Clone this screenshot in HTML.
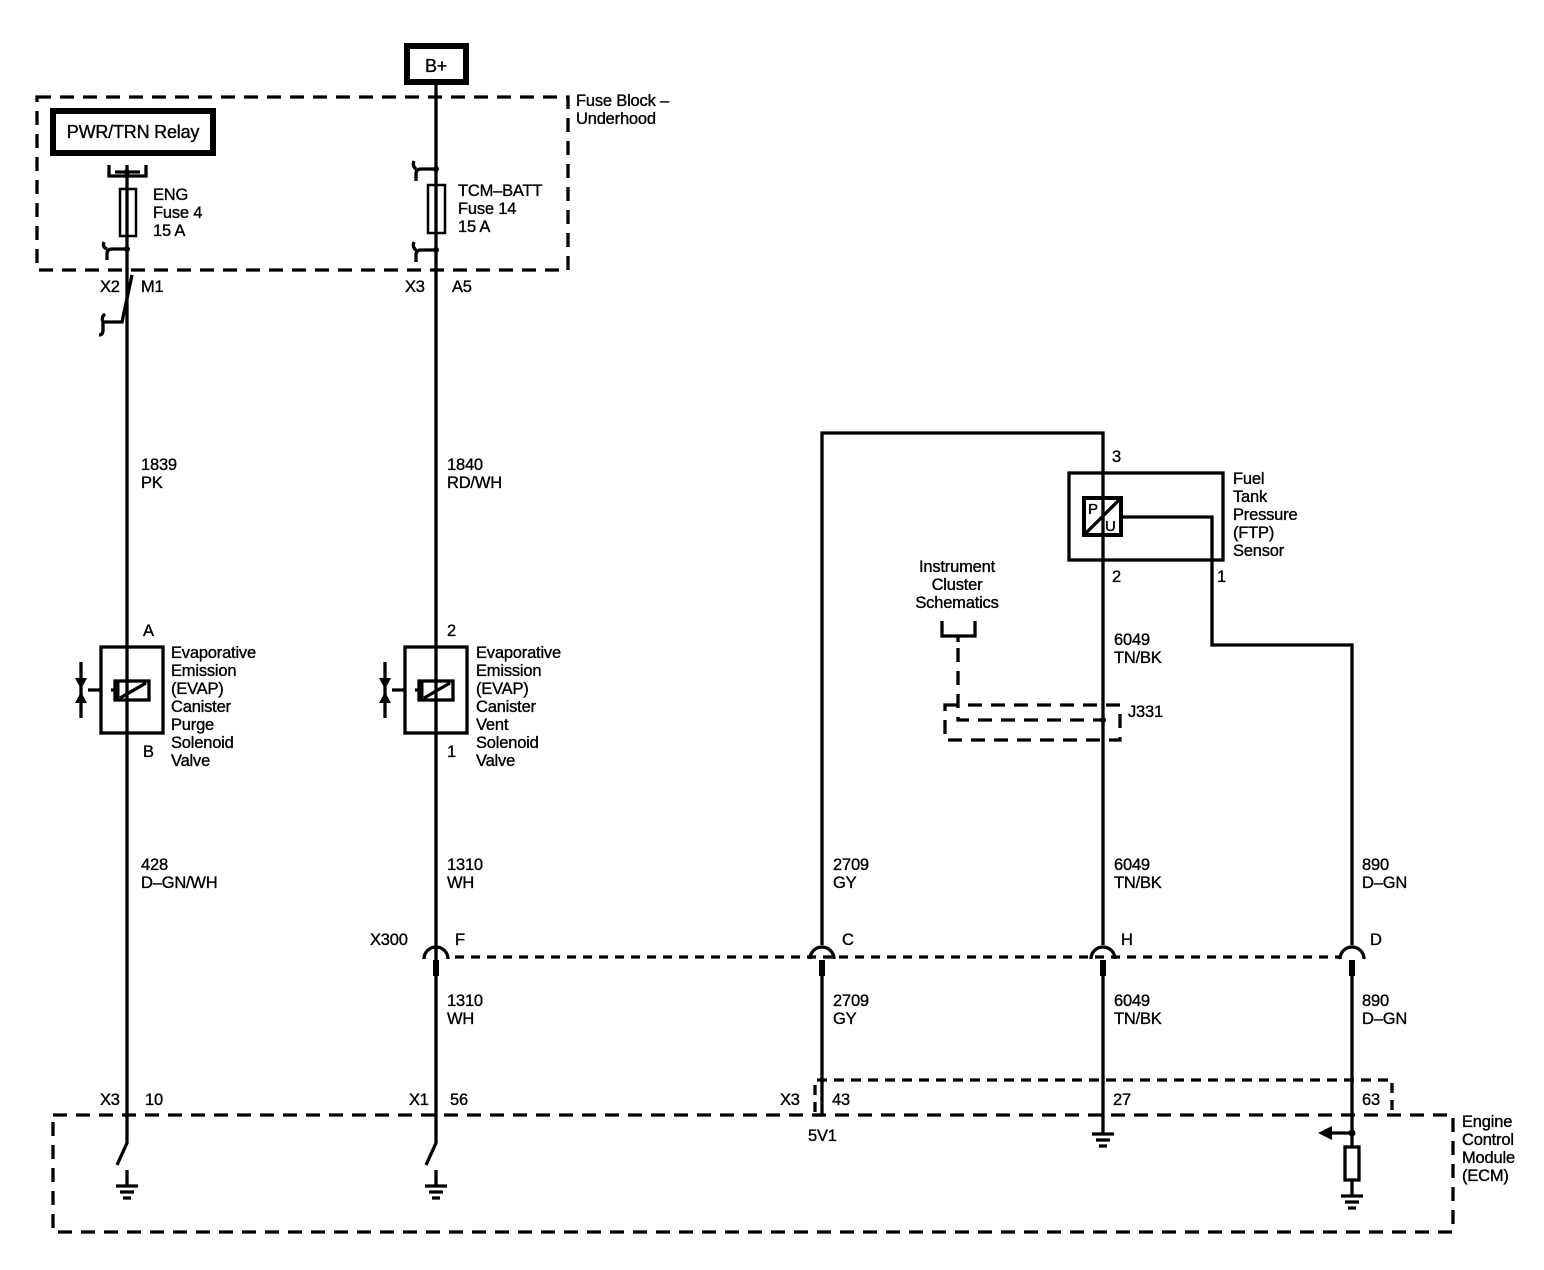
<!DOCTYPE html>
<html><head><meta charset="utf-8"><style>
html,body{margin:0;padding:0;background:#fff;}
svg{display:block;}
text{font-family:"Liberation Sans",sans-serif;font-size:16.5px;fill:#000;stroke:#000;stroke-width:0.35;letter-spacing:-0.2px;}
</style></head><body>
<svg width="1544" height="1270" viewBox="0 0 1544 1270" xmlns="http://www.w3.org/2000/svg">
<g stroke="#000" fill="none" stroke-width="3.3">
<rect x="407" y="46" width="59" height="36" stroke-width="6"/>
<rect x="37" y="97" width="531" height="173" stroke-dasharray="14,9"/>
<rect x="53" y="111" width="160" height="42" stroke-width="6"/>
<path d="M109,165 V176 H146 V165 M127,165 V1143 L117,1165"/>
<path d="M115,172 H140"/>
<rect x="120" y="189" width="16" height="47" stroke-width="2.5"/>
<path d="M127,249 H112 Q107,249 107,254 V260 M107,249 Q102,247 104,242"/>
<path d="M132,275 L122,322 H103 V330 Q103,335 99,335 M103,322 Q101,317 105,314"/>
<path d="M436,84 V1143 L426,1165"/>
<path d="M436,169 H421 Q416,169 416,174 V181 M416,169 Q412,166 414,161"/>
<rect x="428" y="185" width="17" height="48" stroke-width="2.5"/>
<path d="M436,250 H421 Q416,250 416,255 V262 M416,250 Q412,247 414,242"/>
<rect x="101" y="647" width="62" height="86"/>
<rect x="115" y="681" width="34" height="19"/>
<path d="M117,681 V700" stroke-width="5"/>
<path d="M120,698 L146,683"/>
<path d="M88,690 H101 M111,690 H115"/>
<path d="M81,662 V718"/>
<rect x="405" y="647" width="62" height="86"/>
<rect x="419" y="681" width="34" height="19"/>
<path d="M421,681 V700" stroke-width="5"/>
<path d="M424,698 L450,683"/>
<path d="M392,690 H405 M415,690 H419"/>
<path d="M385,662 V718"/>
<path d="M822,945 V433 H1103 V945"/>
<path d="M822,975 V1115 H815"/>
<rect x="1069" y="473" width="154" height="87"/>
<rect x="1084" y="498" width="37" height="37" stroke-width="4"/>
<path d="M1086,533 L1119,500"/>
<path d="M1121,517 H1212 V645 H1352 V945"/>
<path d="M1103,975 V1130"/>
<path d="M1352,975 V1147"/>
<path d="M942,621 V636 H975 V621 M958,636 V642"/>
<path d="M958,648 V720 H1103" stroke-dasharray="14,9"/>
<path d="M945,705 H1120 V740 H945 Z" stroke-dasharray="14,9"/>
<path d="M455,957 H1340" stroke-dasharray="9,7"/>
<rect x="53" y="1115" width="1400" height="117" stroke-dasharray="14,9"/>
<path d="M815,1112 V1080 H1392 V1112" stroke-dasharray="10,7"/>
<path d="M127,1170 V1186 M116,1186 H138 M120,1192 H134 M123,1198 H131"/>
<path d="M436,1170 V1186 M425,1186 H447 M429,1192 H443 M432,1198 H440"/>
<path d="M1103,1130 V1134 M1092,1134 H1114 M1096,1140 H1110 M1099,1146 H1107"/>
<path d="M1352,1180 V1196 M1341,1196 H1363 M1345,1202 H1359 M1348,1208 H1356"/>
<rect x="1345" y="1147" width="14" height="33"/>
<path d="M1352,1133 H1330"/>
</g>
<g fill="#000">
<circle cx="127" cy="172" r="3"/><circle cx="127" cy="249" r="3"/>
<circle cx="436" cy="169" r="3"/><circle cx="436" cy="250" r="3"/>
<circle cx="1103" cy="720" r="3"/><circle cx="1352" cy="1133" r="3.5"/>
<polygon points="1318,1133 1332,1126 1332,1140"/>
<polygon points="75,678 87,678 81,689"/><polygon points="75,703 87,703 81,692"/>
<polygon points="379,678 391,678 385,689"/><polygon points="379,703 391,703 385,692"/>
<rect x="433" y="960" width="6" height="16"/><rect x="819" y="960" width="6" height="16"/>
<rect x="1100" y="960" width="6" height="16"/><rect x="1349" y="960" width="6" height="16"/>
</g>
<g stroke="#000" fill="none" stroke-width="3.3">
<path d="M424,959 A12,12 0 0 1 448,959"/><path d="M810,959 A12,12 0 0 1 834,959"/>
<path d="M1091,959 A12,12 0 0 1 1115,959"/><path d="M1340,959 A12,12 0 0 1 1364,959"/>
</g>
<text x="436" y="72" text-anchor="middle" style="font-size:18px">B+</text>
<text x="133" y="138" text-anchor="middle" style="font-size:18px">PWR/TRN Relay</text>
<text x="576" y="106">Fuse Block –</text><text x="576" y="124">Underhood</text>
<text x="153" y="200">ENG</text><text x="153" y="218">Fuse 4</text><text x="153" y="236">15 A</text>
<text x="458" y="196">TCM–BATT</text><text x="458" y="214">Fuse 14</text><text x="458" y="232">15 A</text>
<text x="100" y="292">X2</text><text x="141" y="292">M1</text>
<text x="405" y="292">X3</text><text x="452" y="292">A5</text>
<text x="141" y="470">1839</text><text x="141" y="488">PK</text>
<text x="447" y="470">1840</text><text x="447" y="488">RD/WH</text>
<text x="143" y="636">A</text><text x="143" y="757">B</text>
<text x="447" y="636">2</text><text x="447" y="757">1</text>
<g>
<text x="171" y="658">Evaporative</text><text x="171" y="676">Emission</text><text x="171" y="694">(EVAP)</text><text x="171" y="712">Canister</text><text x="171" y="730">Purge</text><text x="171" y="748">Solenoid</text><text x="171" y="766">Valve</text>
<text x="476" y="658">Evaporative</text><text x="476" y="676">Emission</text><text x="476" y="694">(EVAP)</text><text x="476" y="712">Canister</text><text x="476" y="730">Vent</text><text x="476" y="748">Solenoid</text><text x="476" y="766">Valve</text>
</g>
<text x="1112" y="462">3</text><text x="1112" y="582">2</text><text x="1217" y="582">1</text>
<text x="1088" y="514" style="font-size:15px">P</text><text x="1105" y="531" style="font-size:15px">U</text>
<text x="1233" y="484">Fuel</text><text x="1233" y="502">Tank</text><text x="1233" y="520">Pressure</text><text x="1233" y="538">(FTP)</text><text x="1233" y="556">Sensor</text>
<text x="957" y="572" text-anchor="middle">Instrument</text><text x="957" y="590" text-anchor="middle">Cluster</text><text x="957" y="608" text-anchor="middle">Schematics</text>
<text x="1114" y="645">6049</text><text x="1114" y="663">TN/BK</text>
<text x="1128" y="717">J331</text>
<text x="141" y="870">428</text><text x="141" y="888">D–GN/WH</text>
<text x="447" y="870">1310</text><text x="447" y="888">WH</text>
<text x="833" y="870">2709</text><text x="833" y="888">GY</text>
<text x="1114" y="870">6049</text><text x="1114" y="888">TN/BK</text>
<text x="1362" y="870">890</text><text x="1362" y="888">D–GN</text>
<text x="370" y="945">X300</text><text x="455" y="945">F</text><text x="842" y="945">C</text><text x="1121" y="945">H</text><text x="1370" y="945">D</text>
<text x="447" y="1006">1310</text><text x="447" y="1024">WH</text>
<text x="833" y="1006">2709</text><text x="833" y="1024">GY</text>
<text x="1114" y="1006">6049</text><text x="1114" y="1024">TN/BK</text>
<text x="1362" y="1006">890</text><text x="1362" y="1024">D–GN</text>
<text x="100" y="1105">X3</text><text x="145" y="1105">10</text>
<text x="409" y="1105">X1</text><text x="450" y="1105">56</text>
<text x="780" y="1105">X3</text><text x="832" y="1105">43</text>
<text x="1113" y="1105">27</text><text x="1362" y="1105">63</text>
<text x="808" y="1141">5V1</text>
<text x="1462" y="1127">Engine</text><text x="1462" y="1145">Control</text><text x="1462" y="1163">Module</text><text x="1462" y="1181">(ECM)</text>
</svg>
</body></html>
